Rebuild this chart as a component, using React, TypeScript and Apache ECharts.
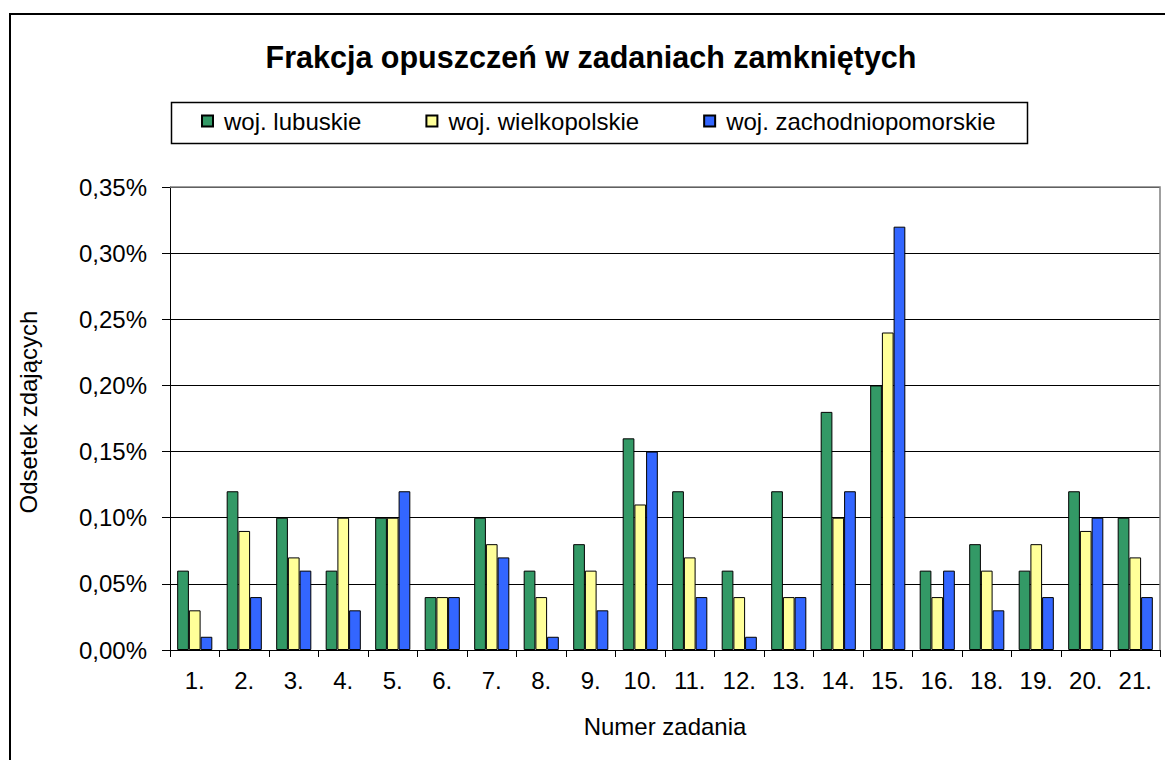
import React, { useEffect, useRef } from "react";
import * as echarts from "echarts";

const categories = ["1.", "2.", "3.", "4.", "5.", "6.", "7.", "8.", "9.", "10.", "11.", "12.", "13.", "14.", "15.", "16.", "18.", "19.", "20.", "21."];
const seriesNames = ["woj. lubuskie", "woj. wielkopolskie", "woj. zachodniopomorskie"];
const lubuskie = [0.06, 0.12, 0.10, 0.06, 0.10, 0.04, 0.10, 0.06, 0.08, 0.16, 0.12, 0.06, 0.12, 0.18, 0.20, 0.06, 0.08, 0.06, 0.12, 0.10];
const wielkopolskie = [0.03, 0.09, 0.07, 0.10, 0.10, 0.04, 0.08, 0.04, 0.06, 0.11, 0.07, 0.04, 0.04, 0.10, 0.24, 0.04, 0.06, 0.08, 0.09, 0.07];
const zachodniopomorskie = [0.01, 0.04, 0.06, 0.03, 0.12, 0.04, 0.07, 0.01, 0.03, 0.15, 0.04, 0.01, 0.04, 0.12, 0.32, 0.06, 0.03, 0.04, 0.10, 0.04];
const colors = ["#339966", "#FFFF99", "#3366FF"];
const titleText = "Frakcja opuszczeń w zadaniach zamkniętych";
const yAxisTitle = "Odsetek zdających";
const xAxisTitle = "Numer zadania";

const FONT = "Arial, 'Liberation Sans', sans-serif";

export default function App() {
  const ref = useRef<HTMLDivElement>(null);
  useEffect(() => {
    if (!ref.current) return;
    const chart = echarts.init(ref.current, undefined, { renderer: "svg" });
    const gl = 170, gr = 1160, gt = 187, gb = 650;
    const allData = [lubuskie, wielkopolskie, zachodniopomorskie];
    chart.setOption({
      animation: false,
      backgroundColor: "#ffffff",
      textStyle: { fontFamily: FONT },
      grid: { left: gl, right: 1165 - gr, top: gt, bottom: 760 - gb, containLabel: false },
      legend: {
        data: seriesNames,
        left: 201,
        top: 109,
        padding: 0,
        itemWidth: 11,
        itemHeight: 11,
        itemGap: 64,
        icon: "rect",
        textStyle: { fontSize: 24, color: "#000", fontFamily: FONT, padding: [0, 0, 0, 6] },
      },
      xAxis: {
        type: "category",
        data: categories,
        axisLine: { lineStyle: { color: "#000", width: 1 } },
        axisTick: { show: true, length: 7, alignWithLabel: false, lineStyle: { color: "#000" } },
        axisLabel: { fontSize: 24, color: "#000", margin: 18, fontFamily: FONT, interval: 0 },
        splitLine: { show: false },
      },
      yAxis: {
        type: "value",
        min: 0,
        max: 0.35,
        interval: 0.05,
        axisLine: { show: true, lineStyle: { color: "#000", width: 1 } },
        axisTick: { show: true, length: 8, lineStyle: { color: "#000" } },
        axisLabel: {
          fontSize: 24,
          color: "#000",
          margin: 23,
          fontFamily: FONT,
          formatter: (v: number) => v.toFixed(2).replace(".", ",") + "%",
        },
        splitLine: { show: true, lineStyle: { color: "#000", width: 1 } },
      },
      series: allData.map((d, i) => ({
        name: seriesNames[i],
        type: "bar",
        data: d,
        barGap: "0%",
        barCategoryGap: "29%",
        itemStyle: { color: colors[i], borderColor: "#000", borderWidth: 1 },
      })),
      graphic: [
        {
          type: "rect",
          z: 100,
          shape: { x: 10, y: 14, width: 1200, height: 800 },
          style: { fill: "none", stroke: "#000", lineWidth: 2 },
        },
        {
          type: "polyline",
          z: 100,
          shape: { points: [[gl, gt], [gr, gt], [gr, gb]] },
          style: { fill: "none", stroke: "#808080", lineWidth: 1.5 },
        },
        {
          type: "rect",
          z: 100,
          shape: { x: 171.5, y: 102.5, width: 856, height: 41 },
          style: { fill: "none", stroke: "#000", lineWidth: 1.5 },
        },
        {
          type: "text",
          z: 100,
          x: 591,
          y: 57,
          style: {
            text: titleText,
            font: "bold 30.5px " + FONT,
            fill: "#000",
            textAlign: "center",
            textVerticalAlign: "middle",
          },
        },
        {
          type: "text",
          z: 100,
          x: 665,
          y: 726,
          style: {
            text: xAxisTitle,
            font: "24px " + FONT,
            fill: "#000",
            textAlign: "center",
            textVerticalAlign: "middle",
          },
        },
        {
          type: "text",
          z: 100,
          x: 28,
          y: 412,
          rotation: Math.PI / 2,
          style: {
            text: yAxisTitle,
            font: "24px " + FONT,
            fill: "#000",
            textAlign: "center",
            textVerticalAlign: "middle",
          },
        },
      ],
    });
    return () => chart.dispose();
  }, []);
  return (
    <div
      ref={ref}
      style={{ position: "absolute", left: 0, top: 0, width: 1165, height: 760 }}
    />
  );
}
